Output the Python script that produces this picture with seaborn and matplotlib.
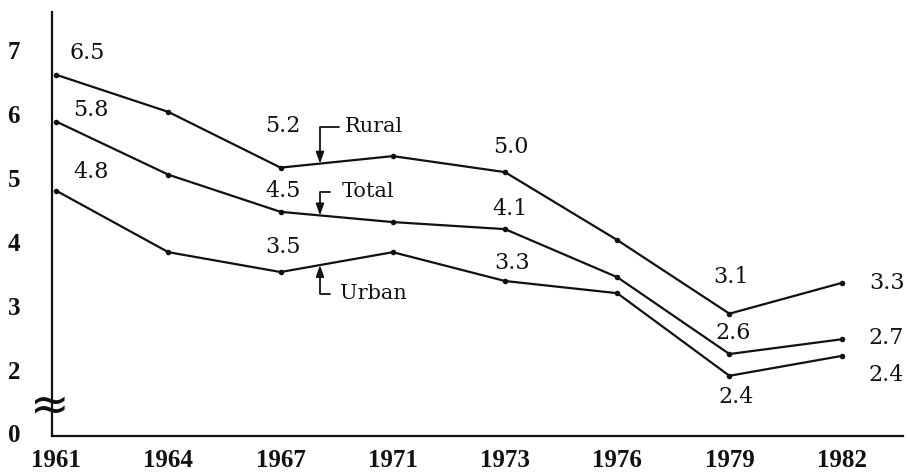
import matplotlib
matplotlib.use("Agg")
import matplotlib.pyplot as plt
import numpy as np
import pandas as pd
import seaborn as sns

# ---- data ----
years = ["1961", "1964", "1967", "1971", "1973", "1976", "1979", "1982"]
rural = [6.61, 6.03, 5.16, 5.34, 5.09, 4.03, 2.88, 3.36]
total = [5.88, 5.05, 4.47, 4.31, 4.20, 3.45, 2.25, 2.48]
urban = [4.80, 3.84, 3.53, 3.84, 3.39, 3.20, 1.91, 2.22]
series_names = ["Rural", "Total", "Urban"]

rural_labels = {0: "6.5", 2: "5.2", 4: "5.0", 6: "3.1", 7: "3.3"}
total_labels = {0: "5.8", 2: "4.5", 4: "4.1", 6: "2.6", 7: "2.7"}
urban_labels = {0: "4.8", 2: "3.5", 4: "3.3", 6: "2.4", 7: "2.4"}

ytick_labels = ["0", "2", "3", "4", "5", "6", "7"]

# ---- figure ----
sns.set_theme(style="white")
plt.rcParams["font.family"] = ["DejaVu Serif", "DejaVu Sans"]

fig = plt.figure(figsize=(9.08, 4.73), dpi=100)
ax = fig.add_axes([52 / 908, (473 - 436) / 473, (903 - 52) / 908, (436 - 12) / 473])

idx = np.arange(len(years))
df = pd.concat([
    pd.DataFrame({"i": idx, "value": vals, "series": name})
    for name, vals in zip(series_names, [rural, total, urban])
])

sns.lineplot(data=df, x="i", y="value", hue="series",
             palette={n: "#111111" for n in series_names},
             marker="o", markersize=4, markeredgewidth=0,
             linewidth=1.6, legend=False, ax=ax)

ax.set_xlim(-0.037, 7.547)
ax.set_ylim(0.97, 7.59)
ax.set_xlabel("")
ax.set_ylabel("")

ax.set_xticks(idx)
ax.set_xticklabels(years, fontfamily="Liberation Serif", fontweight="bold", fontsize=18)
ax.set_yticks([1.02, 2, 3, 4, 5, 6, 7])
ax.set_yticklabels(ytick_labels, fontfamily="Liberation Serif", fontweight="bold", fontsize=18)
ax.tick_params(axis="x", length=0, pad=9, colors="#111111")
ax.tick_params(axis="y", length=0, pad=23, colors="#111111")
for lab in ax.get_yticklabels():
    lab.set_horizontalalignment("right")

for s in ["top", "right"]:
    ax.spines[s].set_visible(False)
for s in ["left", "bottom"]:
    ax.spines[s].set_color("#111111")
    ax.spines[s].set_linewidth(1.6)

# ---- value labels (pixel offsets from the points) ----
offsets = {
    "Rural": {0: (31, 22), 2: (2, 42), 4: (6, 25), 6: (2, 37), 7: (45, 0)},
    "Total": {0: (35, 12), 2: (2, 21), 4: (5, 20), 6: (4, 21), 7: (45, 1)},
    "Urban": {0: (35, 19), 2: (2, 25), 4: (7, 18), 6: (7, -21), 7: (45, -19)},
}
for name, vals, labs in zip(series_names, [rural, total, urban],
                            [rural_labels, total_labels, urban_labels]):
    for k, txt in labs.items():
        dx, dy = offsets[name][k]
        ax.annotate(txt, xy=(idx[k], vals[k]), xytext=(dx * 0.72, dy * 0.72),
                    textcoords="offset points", ha="center", va="center",
                    fontsize=16, fontfamily="DejaVu Serif", color="#111111")

# ---- series name brackets ----
xa = (320 - 56.2) / 112.2
brackets = [
    ("Rural", rural, (345 - 56.2) / 112.2, 7 - (127 - 50) / 64, 2),
    ("Total", total, (342 - 56.2) / 112.2, 7 - (192 - 50) / 64, 6),
    ("Urban", urban, (340 - 56.2) / 112.2, 7 - (294 - 50) / 64, 5),
]
for name, vals, xt, yt, shr in brackets:
    ya = np.interp(xa, idx, vals)
    ax.annotate(name, xy=(xa, ya), xytext=(xt, yt), ha="left", va="center",
                fontsize=15, fontfamily="DejaVu Serif", color="#111111",
                arrowprops=dict(arrowstyle="-|>,head_length=0.45,head_width=0.16",
                                connectionstyle="angle,angleA=0,angleB=90,rad=0",
                                color="#111111", lw=1.3, shrinkA=shr, shrinkB=0))

# ---- axis break symbol ----
ax.text(-0.003, 0.066, "\u2248", transform=ax.transAxes, ha="center", va="center",
        fontsize=34, fontfamily="DejaVu Sans", color="#111111", clip_on=False)

fig.savefig("out.png", dpi=100, facecolor="white")
